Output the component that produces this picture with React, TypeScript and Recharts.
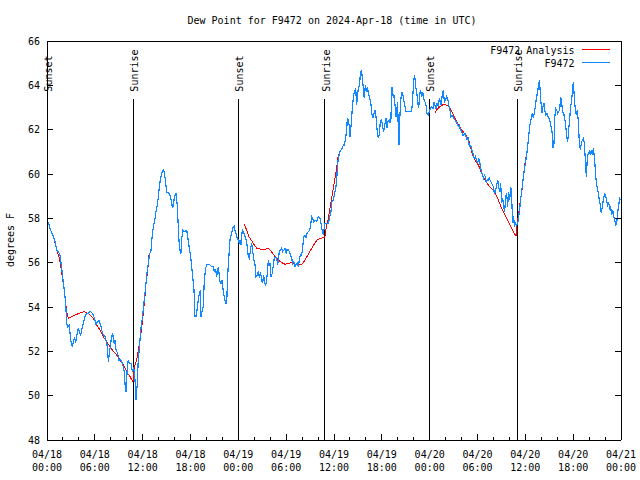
import React from 'react';
import { LineChart, Line, XAxis, YAxis, ReferenceLine } from 'recharts';

const FONT = '"DejaVu Sans Mono", monospace';
const BLUE = '#1188ff';
const RED = '#ff0000';

// hours since 04/18 00:00 UTC
const hourTicks = [0, 2, 4, 6, 8, 10, 12, 14, 16, 18, 20, 22, 24, 26, 28, 30, 32, 34, 36,
  38, 40, 42, 44, 46, 48, 50, 52, 54, 56, 58, 60, 62, 64, 66, 68, 70, 72];
const majorHours = [0, 6, 12, 18, 24, 30, 36, 42, 48, 54, 60, 66, 72];
const tickDates = ['04/18', '04/18', '04/18', '04/18', '04/19', '04/19', '04/19', '04/19',
  '04/20', '04/20', '04/20', '04/20', '04/21'];
const tickTimes = ['00:00', '06:00', '12:00', '18:00', '00:00', '06:00', '12:00', '18:00',
  '00:00', '06:00', '12:00', '18:00', '00:00'];
const degreeTicks = [48, 50, 52, 54, 56, 58, 60, 62, 64, 66];

const sunEvents = [
  { label: 'Sunset', hour: 0 },
  { label: 'Sunrise', hour: 10.83 },
  { label: 'Sunset', hour: 24.0 },
  { label: 'Sunrise', hour: 34.87 },
  { label: 'Sunset', hour: 47.96 },
  { label: 'Sunrise', hour: 58.98 },
];
const sunLineTop = 63.4;

// F9472 observations [hour, dew point F]
const observed: [number, number][] = [
  [0.17, 57.85], [0.38, 57.55], [0.59, 57.35], [0.8, 57.2], [1.0, 56.95], [1.21, 56.57], [1.42, 56.5],
  [1.63, 56.35], [1.76, 55.97], [1.92, 55.52], [2.05, 55.07], [2.17, 54.77], [2.34, 54.17], [2.47, 53.27],
  [2.59, 53.11], [2.76, 53.19], [2.89, 52.81], [3.01, 52.44], [3.18, 52.21], [3.3, 52.44], [3.43, 52.59],
  [3.6, 52.44], [3.72, 52.66], [3.93, 53.04], [4.06, 52.89], [4.22, 52.74], [4.35, 52.96], [4.56, 53.27],
  [4.77, 53.57], [4.98, 53.72], [5.18, 53.72], [5.39, 53.82], [5.6, 53.75], [5.81, 53.64], [6.02, 53.42],
  [6.15, 53.19], [6.31, 53.34], [6.52, 53.38], [6.73, 53.19], [6.86, 52.96], [7.07, 52.74], [7.28, 52.66],
  [7.4, 52.51], [7.57, 52.21], [7.69, 51.54], [7.82, 51.91], [7.99, 52.36], [8.11, 52.66], [8.24, 52.81],
  [8.4, 52.36], [8.53, 52.51], [8.66, 52.06], [8.86, 51.91], [9.03, 51.61], [9.24, 51.61], [9.45, 51.46],
  [9.66, 51.16], [9.78, 50.56], [9.91, 50.18], [10.08, 51.31], [10.2, 51.61], [10.33, 51.46], [10.54, 51.46],
  [10.7, 51.08], [10.87, 51.31], [11.04, 50.71], [11.16, 49.81], [11.33, 50.56], [11.46, 51.76], [11.58, 52.06],
  [11.75, 52.96], [11.88, 53.27], [12.0, 53.64], [12.13, 54.09], [12.29, 54.62], [12.42, 55.07], [12.54, 55.52],
  [12.71, 55.97], [12.84, 56.35], [13.05, 56.57], [13.17, 57.1], [13.34, 57.63], [13.55, 58.0], [13.67, 58.3],
  [13.84, 58.6], [13.97, 58.98], [14.09, 59.43], [14.22, 59.73], [14.38, 60.03], [14.59, 60.18], [14.72, 60.1],
  [14.89, 59.58], [15.01, 59.16], [15.22, 59.16], [15.43, 59.05], [15.64, 58.68], [15.76, 58.45], [15.93, 58.83],
  [16.06, 59.05], [16.18, 59.13], [16.35, 58.53], [16.47, 57.63], [16.56, 56.95], [16.68, 56.57], [16.81, 56.42],
  [16.89, 57.02], [17.02, 57.47], [17.23, 57.4], [17.31, 57.4], [17.44, 57.47], [17.56, 57.4], [17.73, 56.95],
  [18.02, 56.27], [18.15, 55.82], [18.27, 55.37], [18.44, 54.77], [18.56, 53.57], [18.69, 53.57], [18.82, 53.87],
  [18.98, 54.32], [19.11, 54.62], [19.23, 54.77], [19.32, 53.57], [19.48, 53.87], [19.61, 54.02], [19.73, 55.22],
  [19.9, 55.75], [20.03, 55.9], [20.24, 55.9], [20.45, 55.9], [20.65, 55.82], [20.86, 55.82], [20.99, 55.6],
  [21.16, 55.67], [21.28, 55.37], [21.49, 55.82], [21.7, 55.14], [21.83, 55.07], [21.99, 55.22], [22.12, 54.62],
  [22.24, 54.47], [22.41, 54.17], [22.54, 54.17], [22.66, 55.37], [22.75, 55.97], [22.87, 56.57], [22.95, 57.02],
  [23.16, 57.32], [23.29, 57.55], [23.46, 57.66], [23.58, 57.47], [23.71, 57.32], [23.87, 57.1], [24.0, 57.02],
  [24.13, 56.87], [24.21, 57.02], [24.33, 56.8], [24.5, 57.47], [24.63, 57.4], [24.75, 57.25], [24.92, 57.1],
  [25.04, 56.95], [25.17, 56.57], [25.25, 56.27], [25.38, 56.2], [25.55, 56.65], [25.67, 56.87], [25.8, 56.5],
  [25.96, 56.12], [26.09, 55.9], [26.22, 55.37], [26.38, 55.45], [26.51, 55.6], [26.63, 55.37], [26.8, 55.52],
  [26.93, 55.22], [27.05, 55.07], [27.18, 55.45], [27.3, 55.07], [27.43, 54.99], [27.55, 55.22], [27.68, 55.67],
  [27.76, 56.12], [27.89, 55.9], [27.97, 55.97], [28.1, 55.37], [28.26, 55.52], [28.39, 55.9], [28.51, 56.2],
  [28.68, 56.27], [28.81, 56.2], [28.93, 55.9], [29.02, 56.12], [29.14, 56.5], [29.31, 56.57], [29.44, 56.65],
  [29.56, 56.5], [29.73, 56.57], [29.85, 56.65], [29.98, 56.42], [30.1, 56.57], [30.27, 56.57], [30.4, 56.5],
  [30.52, 56.35], [30.69, 56.2], [30.81, 55.97], [30.94, 56.05], [31.11, 55.82], [31.23, 55.9], [31.4, 55.97],
  [31.53, 55.82], [31.65, 56.12], [31.78, 56.35], [31.94, 56.35], [32.07, 56.65], [32.19, 57.17], [32.36, 57.25],
  [32.49, 57.1], [32.61, 57.32], [32.78, 57.4], [32.95, 57.47], [33.07, 57.7], [33.2, 58.08], [33.32, 58.0],
  [33.45, 57.85], [33.62, 57.93], [33.83, 57.85], [34.03, 58.08], [34.24, 58.0], [34.37, 57.78], [34.54, 57.4],
  [34.66, 57.25], [34.79, 57.62], [34.87, 57.78], [35.09, 57.78], [35.29, 57.78], [35.62, 58.3], [35.71, 58.75],
  [35.92, 58.83], [36.04, 59.05], [36.21, 59.35], [36.33, 59.66], [36.42, 60.26], [36.54, 60.71], [36.63, 60.86],
  [36.75, 61.01], [36.88, 61.08], [37.04, 61.16], [37.17, 61.31], [37.29, 61.31], [37.46, 61.61], [37.59, 61.99],
  [37.67, 62.51], [37.8, 62.44], [37.92, 62.14], [38.01, 61.69], [38.13, 62.14], [38.3, 62.96], [38.42, 63.41],
  [38.55, 63.71], [38.72, 63.87], [38.84, 63.11], [38.97, 63.57], [39.05, 63.87], [39.22, 64.02], [39.3, 64.54],
  [39.43, 64.69], [39.51, 64.47], [39.64, 64.02], [39.72, 63.71], [39.8, 63.41], [39.93, 64.02], [40.05, 63.71],
  [40.18, 63.94], [40.31, 63.64], [40.43, 63.49], [40.6, 63.26], [40.72, 62.81], [40.85, 62.51], [40.97, 62.66],
  [41.14, 62.89], [41.27, 62.59], [41.39, 62.06], [41.56, 61.61], [41.69, 61.76], [41.81, 62.36], [41.98, 62.44],
  [42.1, 62.14], [42.23, 61.91], [42.4, 62.29], [42.52, 62.51], [42.65, 62.06], [42.77, 62.36], [42.9, 62.44],
  [43.02, 62.29], [43.15, 62.51], [43.23, 63.94], [43.32, 63.87], [43.44, 63.41], [43.52, 63.57], [43.65, 63.11],
  [43.78, 62.59], [43.86, 62.81], [43.98, 63.26], [44.07, 61.91], [44.15, 61.31], [44.28, 62.74], [44.4, 63.41],
  [44.53, 63.71], [44.65, 63.57], [44.78, 63.26], [44.9, 63.04], [45.03, 62.81], [45.2, 62.81], [45.41, 62.81],
  [45.57, 62.81], [45.74, 62.81], [45.87, 63.41], [45.99, 64.17], [46.12, 64.47], [46.24, 63.94], [46.37, 63.71],
  [46.49, 63.26], [46.62, 62.96], [46.74, 63.57], [46.87, 63.79], [47.0, 63.49], [47.12, 63.71], [47.25, 63.41],
  [47.41, 63.26], [47.54, 63.11], [47.66, 62.74], [47.83, 62.66], [47.96, 62.81], [48.08, 62.96], [48.25, 63.04],
  [48.42, 62.96], [48.54, 63.26], [48.67, 63.11], [48.79, 62.96], [48.92, 63.19], [49.09, 63.04], [49.21, 63.41],
  [49.34, 63.26], [49.46, 63.11], [49.59, 63.64], [49.71, 63.79], [49.84, 63.26], [50.0, 63.34], [50.13, 63.49],
  [50.26, 63.41], [50.38, 63.11], [50.51, 62.96], [50.59, 62.81], [50.67, 62.59], [50.8, 62.66], [50.93, 62.59],
  [51.05, 62.51], [51.18, 62.44], [51.3, 62.36], [51.43, 62.29], [51.59, 62.14], [51.72, 62.21], [51.84, 61.99],
  [52.01, 61.91], [52.14, 61.76], [52.26, 61.76], [52.43, 61.84], [52.56, 61.69], [52.68, 61.54], [52.85, 61.61],
  [52.97, 61.23], [53.06, 61.31], [53.19, 61.23], [53.31, 61.08], [53.48, 60.86], [53.6, 60.71], [53.73, 60.78],
  [53.9, 60.63], [54.02, 60.48], [54.15, 60.71], [54.27, 60.56], [54.44, 60.18], [54.57, 60.03], [54.73, 59.81],
  [54.86, 59.96], [54.98, 59.88], [55.11, 59.58], [55.23, 59.73], [55.36, 59.73], [55.48, 59.81], [55.65, 59.66],
  [55.78, 59.58], [55.99, 59.43], [56.11, 59.13], [56.24, 59.2], [56.41, 59.5], [56.53, 59.73], [56.66, 59.43],
  [56.78, 59.2], [56.91, 59.58], [57.03, 58.68], [57.16, 58.9], [57.28, 58.53], [57.41, 58.3], [57.53, 58.98],
  [57.66, 59.13], [57.78, 58.53], [57.91, 59.2], [58.04, 58.83], [58.16, 59.43], [58.24, 59.28], [58.33, 58.53],
  [58.41, 57.78], [58.54, 58.08], [58.62, 57.63], [58.75, 57.78], [58.87, 57.7], [59.0, 57.73], [59.12, 57.93],
  [59.25, 58.3], [59.37, 58.68], [59.5, 59.13], [59.62, 59.43], [59.75, 59.88], [59.88, 60.18], [60.0, 60.48],
  [60.13, 60.78], [60.25, 61.08], [60.38, 61.54], [60.5, 61.99], [60.63, 62.36], [60.75, 62.51], [60.88, 62.74],
  [61.0, 62.51], [61.13, 62.74], [61.25, 63.04], [61.38, 63.41], [61.51, 63.64], [61.63, 63.94], [61.76, 64.24],
  [61.84, 63.87], [61.97, 63.19], [62.09, 62.74], [62.22, 63.04], [62.34, 63.19], [62.47, 62.81], [62.59, 62.66],
  [62.72, 62.74], [62.84, 62.59], [62.97, 62.51], [63.09, 62.36], [63.22, 62.14], [63.35, 61.91], [63.47, 61.16],
  [63.6, 61.38], [63.68, 62.51], [63.81, 62.96], [63.93, 62.89], [64.06, 62.74], [64.18, 62.81], [64.31, 62.89],
  [64.43, 63.49], [64.56, 63.19], [64.68, 62.81], [64.81, 62.74], [64.93, 62.51], [65.06, 62.21], [65.18, 61.69],
  [65.31, 61.46], [65.44, 61.99], [65.56, 62.51], [65.69, 63.04], [65.81, 63.34], [65.94, 63.79], [66.02, 64.17],
  [66.15, 63.41], [66.27, 62.89], [66.4, 62.66], [66.52, 62.89], [66.65, 62.36], [66.77, 61.46], [66.9, 61.08],
  [67.02, 61.38], [67.15, 61.54], [67.28, 61.61], [67.4, 61.38], [67.53, 60.63], [67.65, 59.88], [67.78, 60.71],
  [67.9, 60.93], [68.03, 61.01], [68.15, 60.86], [68.28, 61.08], [68.4, 60.86], [68.53, 61.16], [68.66, 60.78],
  [68.78, 60.18], [68.91, 59.58], [69.03, 59.35], [69.16, 59.13], [69.28, 58.83], [69.41, 58.6], [69.53, 58.23],
  [69.66, 58.53], [69.78, 58.83], [69.95, 59.13], [70.08, 58.98], [70.2, 58.83], [70.33, 58.53], [70.45, 58.75],
  [70.58, 58.38], [70.7, 58.53], [70.83, 58.15], [70.96, 58.38], [71.08, 58.08], [71.21, 57.93], [71.33, 57.7],
  [71.46, 57.78], [71.58, 58.23], [71.71, 58.6], [71.83, 58.9], [71.96, 58.83],
];

// F9472 Analysis [hour, dew point F]; null marks a gap in the analysis
const analysis: [number, number | null][] = [
  [0.6, 57.35], [0.92, 57.02], [1.21, 56.57], [1.5, 56.27], [1.71, 55.9], [1.97, 55.22], [2.17, 54.77],
  [2.34, 54.17], [2.51, 53.72], [2.68, 53.49], [3.09, 53.57], [3.72, 53.67], [4.35, 53.75], [4.68, 53.81],
  [4.98, 53.72], [5.27, 53.69], [5.6, 53.57], [5.94, 53.42], [6.23, 53.19], [6.65, 52.96], [7.07, 52.66],
  [7.48, 52.44], [7.9, 52.21], [8.32, 51.99], [8.74, 51.84], [9.16, 51.61], [9.58, 51.38], [10.0, 51.08],
  [10.41, 50.86], [10.78, 50.62], [10.86, 51.16], [11.25, 51.61], [11.46, 52.06], [11.67, 52.51], [11.88, 53.04],
  [12.08, 53.72], [12.29, 54.47], [12.42, 55.07], [12.59, 55.52], [12.75, 56.12], [12.8, 56.35],
  [18.0, null],
  [24.75, 57.75], [25.04, 57.47], [25.34, 57.17], [25.67, 56.99], [26.01, 56.8], [26.3, 56.65], [26.84, 56.6],
  [27.35, 56.6], [27.68, 56.65], [28.01, 56.57], [28.31, 56.42], [28.68, 56.24], [29.02, 56.12], [29.44, 56.0],
  [29.85, 55.93], [30.27, 55.97], [30.69, 56.0], [31.11, 55.93], [31.53, 55.9], [31.86, 55.9], [32.15, 56.0],
  [32.49, 56.2], [32.86, 56.42], [33.2, 56.65], [33.62, 56.9], [33.95, 57.05], [34.37, 57.1], [34.79, 57.13],
  [34.87, 57.2], [35.08, 57.7], [35.29, 58.0], [35.5, 58.45], [35.71, 58.9], [35.92, 59.35], [36.12, 59.81],
  [36.33, 60.26], [36.54, 60.89],
  [42.0, null],
  [48.67, 62.78], [48.96, 62.93], [49.29, 63.04], [49.59, 63.11], [49.92, 63.14], [50.26, 63.08], [50.55, 62.96],
  [50.84, 62.78], [51.09, 62.59], [51.38, 62.36], [51.68, 62.18], [52.01, 61.99], [52.35, 61.84], [52.64, 61.69],
  [52.97, 61.46], [53.06, 61.31], [53.39, 60.86], [53.69, 60.63], [54.11, 60.41], [54.52, 60.03], [54.94, 59.73],
  [55.36, 59.5], [55.78, 59.35], [56.2, 59.13], [56.61, 58.83], [57.03, 58.45], [57.45, 58.15], [57.87, 57.85],
  [58.29, 57.55], [58.62, 57.32], [58.83, 57.2], [58.91, 57.63], [59.12, 58.08], [59.33, 58.68], [59.54, 59.13],
  [59.75, 59.88], [59.96, 60.48], [60.17, 60.93], [60.38, 61.54], [60.5, 61.99], [60.59, 62.2],
];

const obsData = observed.map(([t, v]) => ({ t, v }));
const analysisData = analysis.map(([t, v]) => ({ t, v }));

const txt = { fontFamily: FONT, fontSize: 10, fill: '#000' };

const BottomTick = (props: any) => {
  const { x, y, payload } = props;
  const i = majorHours.indexOf(payload.value);
  return (
    <g>
      <line x1={x} y1={y} x2={x} y2={y - (i >= 0 ? 6 : 3)} stroke="#000" shapeRendering="crispEdges" />
      {i >= 0 && (
        <>
          <text x={x} y={y + 17.5} textAnchor="middle" {...txt}>{tickDates[i]}</text>
          <text x={x} y={y + 31} textAnchor="middle" {...txt}>{tickTimes[i]}</text>
        </>
      )}
    </g>
  );
};

const TopTick = (props: any) => {
  const { x, y, payload } = props;
  const major = majorHours.indexOf(payload.value) >= 0;
  return <line x1={x} y1={y} x2={x} y2={y + (major ? 6 : 3)} stroke="#000" shapeRendering="crispEdges" />;
};

const LeftTick = (props: any) => {
  const { x, y, payload } = props;
  return (
    <g>
      <line x1={x} y1={y} x2={x + 6} y2={y} stroke="#000" shapeRendering="crispEdges" />
      <text x={x - 7} y={y + 3.5} textAnchor="end" {...txt}>{payload.value}</text>
    </g>
  );
};

const RightTick = (props: any) => {
  const { x, y } = props;
  return <line x1={x} y1={y} x2={x - 6} y2={y} stroke="#000" shapeRendering="crispEdges" />;
};

const sunLabel = (text: string) => (props: any) => {
  const vb = props.viewBox || {};
  const x = (vb.x ?? 0) + 5;
  const y = (vb.y ?? 0) - 7;
  return (
    <text x={x} y={y} transform={`rotate(-90 ${x} ${y})`} {...txt}>{text}</text>
  );
};

const axisStroke = { stroke: '#000', shapeRendering: 'crispEdges' };

export default function App() {
  return (
    <div style={{ position: 'absolute', left: 0, top: 0, width: 640, height: 480, background: '#fff' }}>
      <LineChart width={640} height={480} margin={{ top: 0, right: 0, bottom: 0, left: 0 }}>
        <XAxis
          dataKey="t"
          type="number"
          domain={[0, 72]}
          ticks={hourTicks}
          interval={0}
          tickSize={0}
          tickMargin={0}
          height={40}
          axisLine={axisStroke}
          tick={<BottomTick />}
        />
        <XAxis
          xAxisId="top"
          orientation="top"
          type="number"
          domain={[0, 72]}
          allowDataOverflow
          ticks={hourTicks}
          interval={0}
          tickSize={0}
          tickMargin={0}
          height={41}
          axisLine={axisStroke}
          tick={<TopTick />}
        />
        <YAxis
          type="number"
          domain={[48, 66]}
          ticks={degreeTicks}
          interval={0}
          tickSize={0}
          tickMargin={0}
          width={47}
          axisLine={axisStroke}
          tick={<LeftTick />}
        />
        <YAxis
          yAxisId="right"
          orientation="right"
          type="number"
          domain={[48, 66]}
          allowDataOverflow
          ticks={degreeTicks}
          interval={0}
          tickSize={0}
          tickMargin={0}
          width={19}
          axisLine={axisStroke}
          tick={<RightTick />}
        />
        {sunEvents.map((e, i) => (
          <ReferenceLine
            key={i}
            segment={[{ x: e.hour, y: 48 }, { x: e.hour, y: sunLineTop }]}
            stroke="#000"
            strokeWidth={1}
            shapeRendering="crispEdges"
            ifOverflow="visible"
            label={sunLabel(e.label)}
          />
        ))}
        <Line
          data={analysisData}
          dataKey="v"
          type="linear"
          stroke={RED}
          strokeWidth={1}
          shapeRendering="crispEdges"
          dot={false}
          isAnimationActive={false}
        />
        <Line
          data={obsData}
          dataKey="v"
          type="linear"
          stroke={BLUE}
          strokeWidth={1.2}
          shapeRendering="crispEdges"
          dot={false}
          isAnimationActive={false}
        />
      </LineChart>
      <svg width={640} height={480} style={{ position: 'absolute', left: 0, top: 0, pointerEvents: 'none' }}>
        <text x={332} y={23.5} textAnchor="middle" {...txt}>Dew Point for F9472 on 2024-Apr-18 (time in UTC)</text>
        <text x={14} y={240} textAnchor="middle" transform="rotate(-90 14 240)" {...txt}>degrees F</text>
        <text x={574.5} y={53.5} textAnchor="end" {...txt}>F9472 Analysis</text>
        <line x1={582} y1={49.5} x2={610} y2={49.5} stroke={RED} />
        <text x={574.5} y={66.5} textAnchor="end" {...txt}>F9472</text>
        <line x1={582} y1={62.5} x2={610} y2={62.5} stroke={BLUE} />
      </svg>
    </div>
  );
}
